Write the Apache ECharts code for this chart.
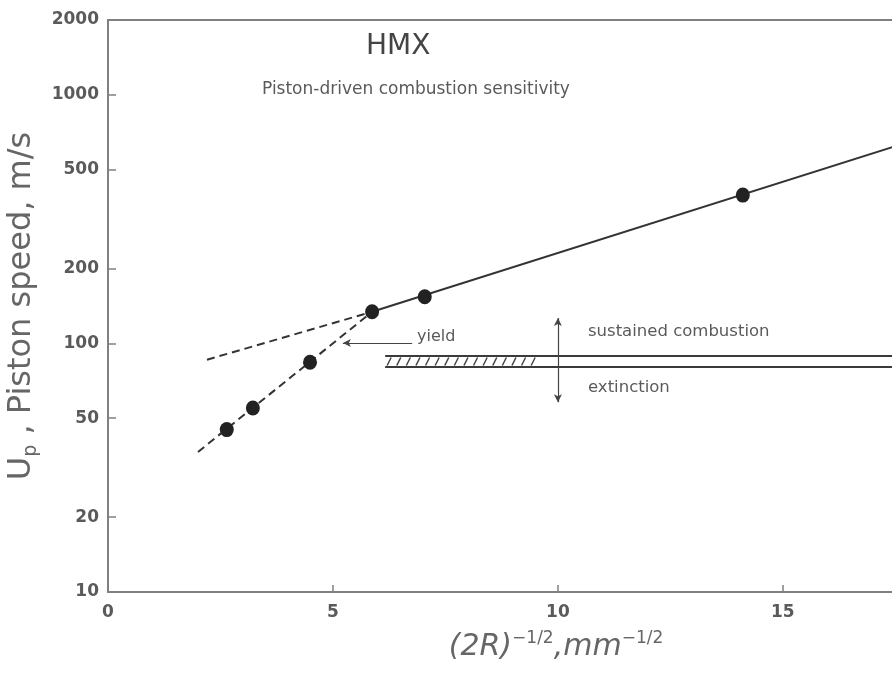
<!DOCTYPE html>
<html>
	<head>
		<meta charset="UTF-8">
		<title>HMX</title>
		<style>
			html, body { margin: 0; padding: 0; background: #fff; }
			#main { width: 892px; height: 673px; }
		</style>
	</head>
	<script src="https://cdn.jsdelivr.net/npm/echarts@6/dist/echarts.min.js"></script>
	<body>
		<div id="main"></div>
	</body>
	<script>
		// measured points
		var pointX = [2.64, 3.22, 4.49, 5.87, 7.04, 14.11]
		var pointY = [45, 55, 84, 134, 154, 395]

		// fitted lines (solid one and the two dashed ones)
		var solidX = [5.87, 17.47]
		var solidY = [134, 619]
		var upperDashX = [2.2, 5.87]
		var upperDashY = [86, 134]
		var lowerDashX = [2.0, 5.87]
		var lowerDashY = [36.6, 134]

		// sustained combustion / extinction band
		var bandX = [6.16, 17.47]
		var bandTop = 89
		var bandBottom = 80.4
		var hatchX = [6.16, 9.62]

		// arrows
		var sepArrowX = 10
		var sepArrowY = [126.5, 58]
		var yieldArrowX = [6.76, 5.22]
		var yieldArrowY = 100.4

		var yTicks = [10, 20, 50, 100, 200, 500, 1000, 2000]
		var xMin = 0, xMax = 17.47

		function pairs(xs, ys) {
			var out = []
			for (var i = 0; i < xs.length; i++) out.push([xs[i], ys[i]])
			return out
		}

		var axisGray = '#808080'
		var textGray = '#5a5a5a'
		var font = 'DejaVu Sans'

		var myChart = echarts.init(document.getElementById('main'))

		var option = {
			animation: false,
			grid: { left: 108, right: -2, top: 20, bottom: 81, containLabel: false, outerBoundsMode: 'none' },
			xAxis: [{
				type: 'value',
				min: xMin,
				max: xMax,
				interval: 5,
				splitLine: { show: false },
				axisLine: { lineStyle: { color: axisGray, width: 2 } },
				axisTick: { inside: true, length: 7, lineStyle: { color: axisGray, width: 1.5 } },
				axisLabel: { color: textGray, fontFamily: font, fontSize: 17, fontWeight: 'bold', margin: 12,
					showMaxLabel: false },
				name: '{i|(2R)}{s|\u22121/2}{i|,mm}{s|\u22121/2}',
				nameLocation: 'middle',
				nameGap: 38,
				nameTextStyle: {
					padding: [0, 0, 0, 110],
					rich: {
						i: { fontFamily: font, fontStyle: 'italic', fontSize: 30, color: '#666' },
						s: { fontFamily: font, fontSize: 17, color: '#666', padding: [0, 0, 17, 0] }
					}
				}
			}, {
				type: 'value',
				position: 'top',
				min: xMin,
				max: xMax,
				splitLine: { show: false },
				axisLine: { lineStyle: { color: axisGray, width: 2 } },
				axisTick: { show: false },
				axisLabel: { show: false }
			}],
			yAxis: {
				type: 'log',
				logBase: 10,
				min: 10,
				max: 2000,
				splitLine: { show: false },
				axisLine: { show: true, lineStyle: { color: axisGray, width: 2 } },
				axisTick: { show: true, inside: true, length: 8, customValues: yTicks,
					lineStyle: { color: axisGray, width: 1.5 } },
				axisLabel: { customValues: yTicks, color: textGray, fontFamily: font, fontSize: 17,
					fontWeight: 'bold', margin: 9,
					formatter: function (v) { return String(Math.round(v)) } },
				name: 'U{s|p} , Piston speed, m/s',
				nameLocation: 'middle',
				nameGap: 60,
				nameTextStyle: {
					fontFamily: font, fontSize: 32, color: '#666',
					rich: { s: { fontFamily: font, fontSize: 19, color: '#666', padding: [19, 0, 0, 0] } }
				}
			},
			graphic: [
				{ type: 'text', left: 366, top: 33, style: { text: 'HMX', font: '28px "DejaVu Sans"', fill: '#444' } },
				{ type: 'text', left: 262, top: 81, style: { text: 'Piston-driven combustion sensitivity', font: '17px "DejaVu Sans"', fill: textGray } },
				{ type: 'text', left: 417, top: 329, style: { text: 'yield', font: '16px "DejaVu Sans"', fill: textGray } },
				{ type: 'text', left: 588, top: 323, style: { text: 'sustained combustion', font: '16.5px "DejaVu Sans"', fill: textGray } },
				{ type: 'text', left: 588, top: 379, style: { text: 'extinction', font: '16.5px "DejaVu Sans"', fill: textGray } }
			],
			series: [
				{
					name: 'upper dashed', type: 'line', data: pairs(upperDashX, upperDashY), showSymbol: false,
					lineStyle: { color: '#333', width: 2, type: [8, 5] }, z: 2
				},
				{
					name: 'lower dashed', type: 'line', data: pairs(lowerDashX, lowerDashY), showSymbol: false,
					lineStyle: { color: '#333', width: 2, type: [8, 5] }, z: 2
				},
				{
					name: 'solid', type: 'line', data: pairs(solidX, solidY), showSymbol: false,
					lineStyle: { color: '#333', width: 2 }, z: 2
				},
				{
					name: 'band top', type: 'line', data: pairs(bandX, [bandTop, bandTop]), showSymbol: false,
					lineStyle: { color: '#3a3a3a', width: 2 }, z: 2
				},
				{
					name: 'band bottom', type: 'line', data: pairs(bandX, [bandBottom, bandBottom]), showSymbol: false,
					lineStyle: { color: '#3a3a3a', width: 2 }, z: 2,
					markLine: {
						silent: true, animation: false,
						symbol: ['arrow', 'arrow'], symbolSize: [6, 8],
						label: { show: false },
						lineStyle: { color: '#444', width: 1.2, type: 'solid' },
						data: [
							[{ coord: [sepArrowX, sepArrowY[0]] }, { coord: [sepArrowX, sepArrowY[1]] }]
						]
					}
				},
				{
					name: 'yield arrow', type: 'line', data: [], showSymbol: false,
					markLine: {
						silent: true, animation: false,
						symbol: ['none', 'arrow'], symbolSize: [6, 8],
						label: { show: false },
						lineStyle: { color: '#444', width: 1.2, type: 'solid' },
						data: [
							[{ coord: [yieldArrowX[0], yieldArrowY] }, { coord: [yieldArrowX[1], yieldArrowY] }]
						]
					}
				},
				{
					name: 'hatch', type: 'custom', z: 3,
					data: [[hatchX[0], hatchX[1], bandBottom, bandTop]],
					encode: { x: [0, 1], y: [2, 3] },
					renderItem: function (params, api) {
						var a = api.coord([api.value(0), api.value(3)])
						var b = api.coord([api.value(1), api.value(2)])
						var top = a[1], bottom = b[1]
						var kids = []
						for (var px = a[0] + 6; px <= b[0]; px += 9.6) {
							kids.push({
								type: 'line',
								shape: { x1: px - 4, y1: bottom - 1.5, x2: px, y2: top + 1.5 },
								style: { stroke: '#444', lineWidth: 1.5 }
							})
						}
						return { type: 'group', children: kids }
					}
				},
				{
					name: 'points', type: 'scatter', data: pairs(pointX, pointY),
					symbol: 'circle', symbolSize: [14, 15],
					itemStyle: { color: '#222', opacity: 1 }, z: 5
				}
			]
		}

		myChart.setOption(option)
	</script>
</html>
